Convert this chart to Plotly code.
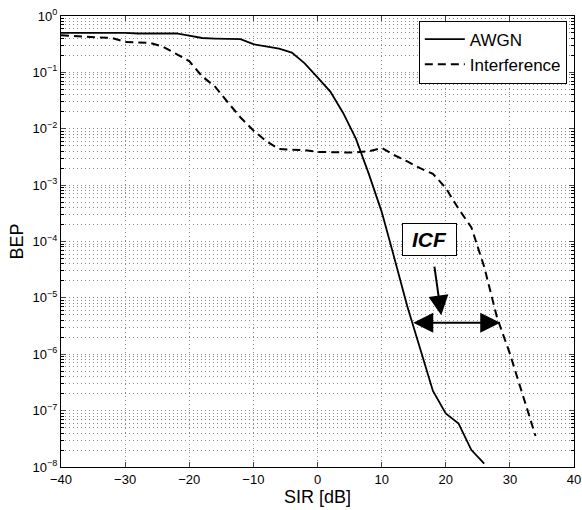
import plotly.graph_objects as go

# ---- data ----
sir_awgn = [-40, -38, -36, -34, -32, -30, -28, -26, -24, -22, -20, -18, -16, -14, -12,
            -10, -8, -6, -4, -2, 0, 2, 4, 6, 8, 10, 12, 14, 16, 18, 20, 22, 24, 26]
log_bep_awgn = [-0.30, -0.30, -0.29, -0.29, -0.30, -0.30, -0.31, -0.31, -0.31, -0.31,
                -0.35, -0.39, -0.40, -0.41, -0.41, -0.50, -0.54, -0.58, -0.65, -0.84,
                -1.09, -1.34, -1.72, -2.18, -2.80, -3.47, -4.30, -5.15, -5.90, -6.65,
                -7.05, -7.23, -7.70, -7.94]
bep_awgn = [10 ** v for v in log_bep_awgn]

sir_intf = [-40, -38, -36, -34, -32, -30, -28, -26, -24, -22, -20, -18, -16, -14, -12,
            -10, -8, -6, -4, -2, 0, 2, 4, 6, 8, 10, 12, 14, 16, 18, 20, 22, 24, 26, 28,
            30, 32, 34]
log_bep_intf = [-0.34, -0.36, -0.37, -0.38, -0.39, -0.46, -0.47, -0.48, -0.55, -0.67,
                -0.80, -1.07, -1.25, -1.53, -1.80, -2.03, -2.22, -2.36, -2.37, -2.38,
                -2.41, -2.42, -2.42, -2.42, -2.40, -2.34, -2.47, -2.58, -2.70, -2.80,
                -3.05, -3.42, -3.75, -4.45, -5.35, -5.99, -6.70, -7.45]
bep_intf = [10 ** v for v in log_bep_intf]

x_ticks = [-40, -30, -20, -10, 0, 10, 20, 30, 40]
y_exps = [-8, -7, -6, -5, -4, -3, -2, -1, 0]
y_tickvals = [10 ** e for e in y_exps]
y_ticktext = ["10<sup>%s</sup>" % (str(e).replace("-", "\u2212")) for e in y_exps]
y_minor = [k * 10 ** e for e in y_exps[:-1] for k in range(2, 10)]

FONT = "Liberation Sans, Arial, Helvetica, sans-serif"
GRID = "#8a8a8a"
DOT = "1px,3px"

fig = go.Figure()
fig.add_trace(go.Scatter(x=sir_awgn, y=bep_awgn, mode="lines", name="AWGN",
                         line=dict(color="black", width=1.8)))
fig.add_trace(go.Scatter(x=sir_intf, y=bep_intf, mode="lines", name="Interference",
                         line=dict(color="black", width=2, dash="8px,5px")))

# ICF box
fig.add_annotation(x=17.5, y=-3.97, xref="x", yref="y", text="<b><i>ICF</i></b>",
                   showarrow=False, font=dict(size=21, family=FONT, color="black"),
                   width=49, height=27, borderpad=2,
                   bordercolor="black", borderwidth=1, bgcolor="white")
# pointer arrow from box
fig.add_annotation(x=19.3, y=-5.31, ax=18.2, ay=-4.42, xref="x", yref="y",
                   axref="x", ayref="y", text="", showarrow=True, arrowhead=2,
                   arrowsize=2, arrowwidth=2, arrowcolor="black", standoff=0)
# double-headed ICF arrow
fig.add_annotation(x=28.5, y=-5.44, ax=14.7, ay=-5.44, xref="x", yref="y",
                   axref="x", ayref="y", text="", showarrow=True, arrowhead=2,
                   startarrowhead=2, arrowside="end+start", arrowsize=2,
                   startarrowsize=2, arrowwidth=2, arrowcolor="black",
                   standoff=0, startstandoff=0)

fig.update_layout(
    width=582, height=510,
    margin=dict(l=61, r=8, t=16, b=43, autoexpand=False),
    paper_bgcolor="white", plot_bgcolor="white",
    font=dict(family=FONT, size=13, color="black"),
    showlegend=True,
    legend=dict(x=0.986, y=0.99, xanchor="right", yanchor="top",
                bgcolor="white", bordercolor="black", borderwidth=1,
                font=dict(size=17, family=FONT), itemwidth=40,
                tracegroupgap=0),
)
fig.update_xaxes(
    range=[-40, 40], tickvals=x_ticks, ticks="inside", ticklen=5,
    showline=True, linecolor="black", linewidth=1, mirror="ticks",
    showgrid=True, gridcolor=GRID, griddash=DOT, gridwidth=1, zeroline=False,
    tickfont=dict(size=13), automargin=False, ticklabeloverflow="allow",
    title=dict(text="SIR [dB]", font=dict(size=18), standoff=2),
)
fig.update_yaxes(
    type="log", range=[-8, 0], tickmode="array", tickvals=y_tickvals,
    ticktext=y_ticktext, ticks="inside", ticklen=5,
    showline=True, linecolor="black", linewidth=1, mirror="ticks",
    showgrid=True, gridcolor=GRID, griddash=DOT, gridwidth=1, zeroline=False,
    tickfont=dict(size=13), automargin=False, ticklabeloverflow="allow",
    minor=dict(tickmode="array", tickvals=y_minor, ticks="inside", ticklen=3,
               tickcolor="black", showgrid=True, gridcolor=GRID, griddash=DOT,
               gridwidth=1),
    title=dict(text="BEP", font=dict(size=18), standoff=4),
)

fig.write_html(
    "out.html",
    config={"displayModeBar": False, "staticPlot": True},
    post_script="document.body.style.margin='0';document.body.style.overflow='hidden';",
)
